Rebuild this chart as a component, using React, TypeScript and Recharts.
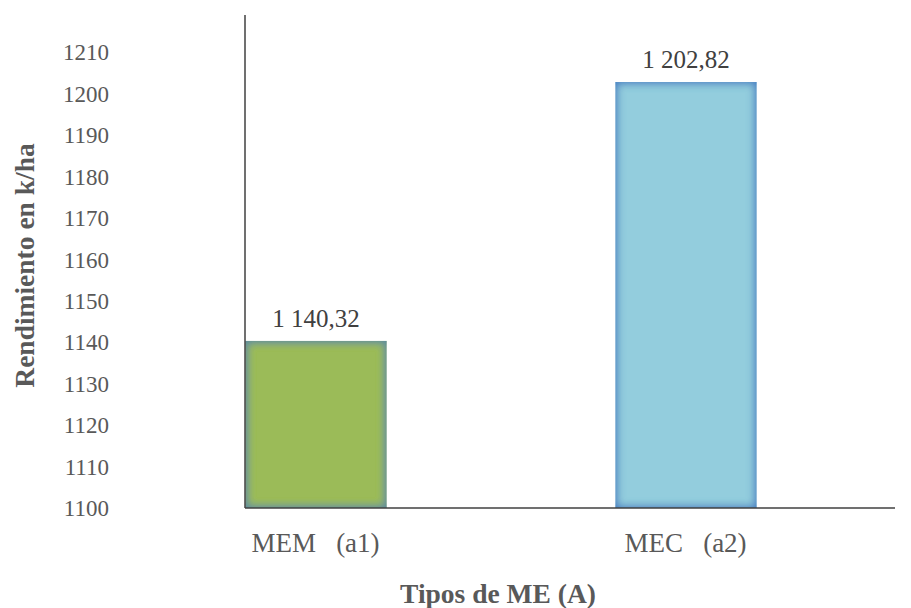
import { BarChart, Bar, XAxis, YAxis, LabelList } from "recharts";

// values
const categories = ["MEM\u00a0\u00a0\u00a0(a1)", "MEC\u00a0\u00a0\u00a0(a2)"];
const rendimiento = [1140.32, 1202.82];
const yTicks = [1100, 1110, 1120, 1130, 1140, 1150, 1160, 1170, 1180, 1190, 1200, 1210];

const data = categories.map((name, i) => ({ name, value: rendimiento[i] }));

const barStyles = [
  { fill: "#9bbb59", glow: "#5a8a9e", id: "glowGreen" },
  { fill: "#93cddd", glow: "#4a82c4", id: "glowBlue" },
];

const FONT = "Liberation Serif, Times New Roman, serif";

// 1 202,82 style number
const formatEs = (v: any) => {
  const [int, dec] = Number(v).toFixed(2).split(".");
  return int.replace(/\B(?=(\d{3})+(?!\d))/g, " ") + "," + dec;
};

const GlowBar = (props: any) => {
  const { x, y, width, height, index } = props;
  const s = barStyles[index % barStyles.length];
  return (
    <rect x={x} y={y} width={width} height={height} fill={s.fill} filter={`url(#${s.id})`} />
  );
};

const YTitle = (props: any) => {
  const { viewBox } = props;
  const cy = viewBox.y + viewBox.height / 2 + 4;
  return (
    <text
      x={24}
      y={cy}
      transform={`rotate(-90, 24, ${cy})`}
      textAnchor="middle"
      dominantBaseline="central"
      fill="#595959"
      style={{ fontFamily: FONT, fontWeight: "bold", fontSize: 27.5 }}
    >
      Rendimiento en k/ha
    </text>
  );
};

const App = () => {
  return (
    <div style={{ position: "fixed", left: 0, top: 0, background: "#fff", fontFamily: FONT }}>
      <BarChart
        width={911}
        height={608}
        data={data}
        margin={{ top: 15, right: 16, bottom: 0, left: 0 }}
        barSize={141}
        style={{ fontFamily: FONT }}
      >
        <defs>
          {barStyles.map((s) => (
            <filter key={s.id} id={s.id} x="-10%" y="-10%" width="120%" height="120%">
              <feComponentTransfer in="SourceAlpha" result="inv">
                <feFuncA type="table" tableValues="1 0" />
              </feComponentTransfer>
              <feGaussianBlur in="inv" stdDeviation="5" result="blur" />
              <feFlood floodColor={s.glow} floodOpacity="1" result="col" />
              <feComposite in="col" in2="blur" operator="in" result="shadow" />
              <feComposite in="shadow" in2="SourceAlpha" operator="in" result="inner" />
              <feMerge>
                <feMergeNode in="SourceGraphic" />
                <feMergeNode in="inner" />
                <feMergeNode in="inner" />
              </feMerge>
            </filter>
          ))}
        </defs>
        <XAxis
          dataKey="name"
          height={100}
          padding={{ left: -114.5, right: 24.5 }}
          tickLine={false}
          tickSize={0}
          tickMargin={25}
          axisLine={{ stroke: "#404040", strokeWidth: 1.5 }}
          tick={{ fill: "#595959", fontSize: 27, style: { fontFamily: FONT } }}
          label={{
            value: "Tipos de ME (A)",
            position: "insideBottom",
            offset: 5,
            dx: -72,
            fill: "#595959",
            fontWeight: "bold",
            fontSize: 27.5,
            style: { fontFamily: FONT },
          }}
        />
        <YAxis
          width={245}
          domain={[1100, 1219]}
          ticks={yTicks}
          allowDataOverflow
          tickLine={false}
          tickSize={0}
          tickMargin={136}
          axisLine={{ stroke: "#404040", strokeWidth: 1.5 }}
          tick={{ fill: "#595959", fontSize: 23, textAnchor: "end", style: { fontFamily: FONT } }}
          label={<YTitle />}
        />
        <Bar dataKey="value" shape={<GlowBar />} isAnimationActive={false}>
          <LabelList
            dataKey="value"
            position="top"
            offset={14}
            formatter={formatEs}
            fill="#404040"
            fontSize={25}
            style={{ fontFamily: FONT }}
          />
        </Bar>
      </BarChart>
    </div>
  );
};

export default App;
